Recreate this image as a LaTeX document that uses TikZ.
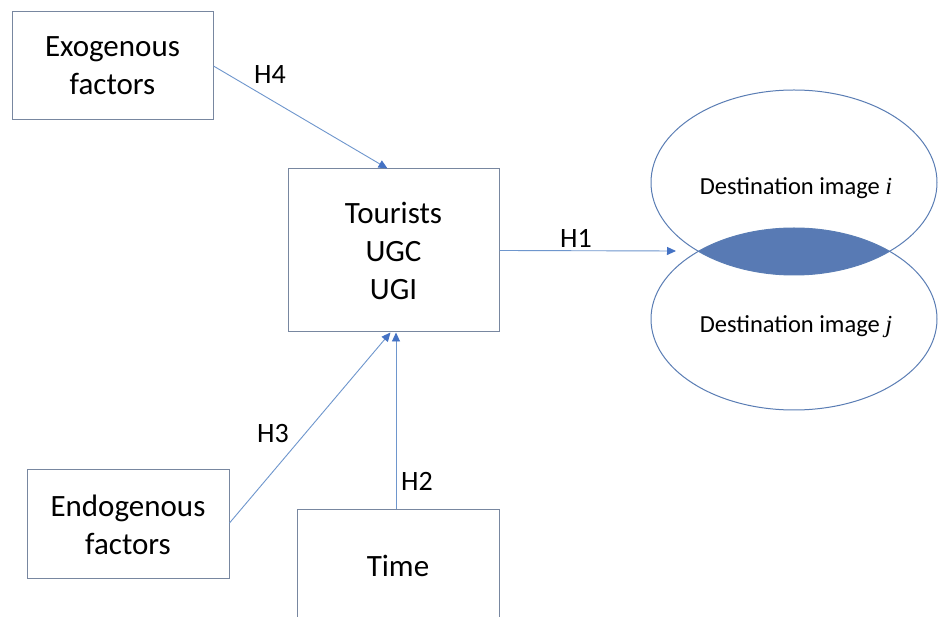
\documentclass[tikz,border=0pt]{standalone}
\usepackage{fontspec}
\setmainfont{Carlito}
\newfontfamily\mathlike{Liberation Serif}
\usetikzlibrary{shapes.geometric,arrows.meta}
\definecolor{boxline}{RGB}{120,135,160}
\definecolor{conline}{RGB}{110,150,205}
\definecolor{tipblue}{RGB}{68,114,196}
\definecolor{lensfill}{RGB}{88,122,180}
\definecolor{ellline}{RGB}{90,125,180}
\tikzset{
  factorbox/.style={draw=boxline, line width=1pt, rectangle, inner sep=0pt, align=center, font=\fontsize{31}{38}\selectfont},
  conn/.style={draw=conline, line width=0.9pt, -{Triangle[length=9pt,width=8pt,fill=tipblue,color=tipblue]}},
  hlabel/.style={font=\fontsize{28}{32}\selectfont, inner sep=0pt},
  ellshape/.style={draw=ellline, line width=1pt, ellipse, minimum width=286pt, minimum height=185pt, inner sep=0pt},
  elltext/.style={font=\fontsize{24.5}{28}\selectfont, inner sep=0pt}
}
\begin{document}
\begin{tikzpicture}[x=1pt,y=-1pt]
\useasboundingbox (0,0) rectangle (938,617);
\fill[white] (0,0) rectangle (938,617);
% lens
\begin{scope}
  \clip (794,182.5) ellipse [x radius=143, y radius=92.5];
  \fill[lensfill] (794,319) ellipse [x radius=143, y radius=91];
\end{scope}
\node[ellshape] (ei) at (794,182.5) {};
\node[ellshape, minimum height=182pt] (ej) at (794,319) {};
\node[elltext] (eit) at (796,188) {Destination image {\mathlike\itshape i}};
\node[elltext] (ejt) at (796,327) {Destination image {\mathlike\itshape j}};
% boxes
\node[factorbox, minimum width=201pt, minimum height=108pt] (exo) at (112.5,66) {Exogenous\\factors};
\node[factorbox, minimum width=211pt, minimum height=163pt] (tour) at (393.5,250.5) {Tourists\\UGC\\UGI};
\node[factorbox, minimum width=202pt, minimum height=109pt] (endo) at (128,524.5) {Endogenous\\factors};
\node[factorbox, minimum width=202pt, minimum height=112pt] (time) at (398,566) {Time};
% connectors
\coordinate (h1end) at (676,251);
\draw[conn] (exo.east) -- ([xshift=-6pt]tour.north);
\draw[conn] (tour.east) -- (h1end);
\draw[conn] ([yshift=1.5pt]endo.east) -- ([xshift=-3pt]tour.south);
\draw[conn] ([xshift=-2pt]time.north) -- ([xshift=2.5pt]tour.south);
% labels
\node[hlabel] (l4) at (270,75) {H4};
\node[hlabel] (l1) at (576,238) {H1};
\node[hlabel] (l3) at (273,434) {H3};
\node[hlabel] (l2) at (417,481) {H2};
\end{tikzpicture}
\end{document}
